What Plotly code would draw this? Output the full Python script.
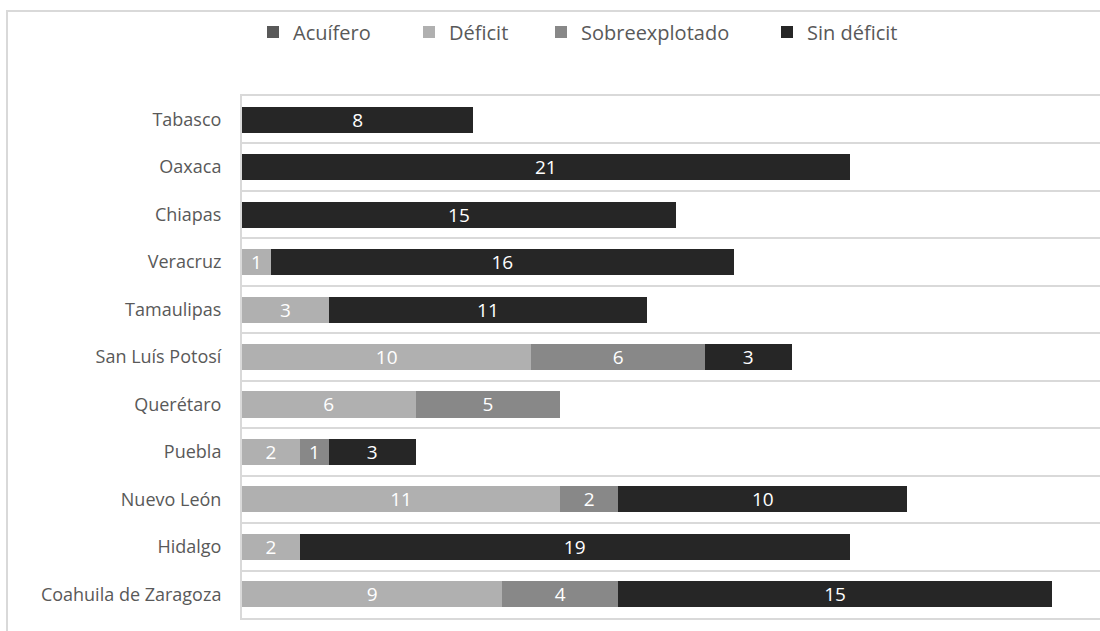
import plotly.graph_objects as go

# States, listed bottom to top on the category axis
estados = [
    "Coahuila de Zaragoza", "Hidalgo", "Nuevo León", "Puebla", "Querétaro",
    "San Luís Potosí", "Tamaulipas", "Veracruz", "Chiapas", "Oaxaca", "Tabasco",
]

# Number of aquifers per condition (None = no aquifers in that condition)
acuifero = [None] * len(estados)
deficit = [9, 2, 11, 2, 6, 10, 3, 1, None, None, None]
sobreexplotado = [4, None, 2, 1, 5, 6, None, None, None, None, None]
sin_deficit = [15, 19, 10, 3, None, 3, 11, 16, 15, 21, 8]

series = [
    ("Acuífero", acuifero, "#595959"),
    ("Déficit", deficit, "#b0b0b0"),
    ("Sobreexplotado", sobreexplotado, "#888888"),
    ("Sin déficit", sin_deficit, "#262626"),
]

FONT = "Open Sans"
W, H = 1100, 631
L, T, B = 242, 96, 12.5
plot_w = W - L
plot_h = H - T - B
UNIT_PX = 28.93  # pixels per aquifer along the value axis

# left edge (px) of each legend entry, one legend box per series
legend_left_px = [253, 409, 541, 767]

fig = go.Figure()
for i, (name, vals, color) in enumerate(series):
    fig.add_trace(go.Bar(
        name=name,
        y=estados,
        x=vals,
        orientation="h",
        marker=dict(color=color, line=dict(width=0)),
        text=[("" if v is None else str(v)) for v in vals],
        textposition="inside",
        insidetextanchor="middle",
        textangle=0,
        textfont=dict(family=FONT, size=19, color="white"),
        hoverinfo="skip",
        legend="legend" if i == 0 else f"legend{i + 1}",
    ))

# light frame around the whole chart area
fig.add_shape(
    type="rect", xref="paper", yref="paper",
    x0=(7 - L) / plot_w, x1=1.05,
    y0=-0.05, y1=(H - B - 11) / plot_h,
    line=dict(color="#d9d9d9", width=2), fillcolor="rgba(0,0,0,0)", layer="below",
)

legend_common = dict(
    orientation="h",
    xanchor="left",
    y=(H - B - 32) / plot_h, yanchor="middle",
    font=dict(family=FONT, size=20, color="#595959"),
    bgcolor="rgba(0,0,0,0)",
    itemwidth=30,
)
legends = {}
for i, px in enumerate(legend_left_px):
    key = "legend" if i == 0 else f"legend{i + 1}"
    legends[key] = dict(legend_common, x=(px - L) / plot_w)

fig.update_layout(
    width=W, height=H,
    margin=dict(l=L, r=0, t=T, b=B, pad=0),
    barmode="stack",
    bargap=0.45,
    paper_bgcolor="white",
    plot_bgcolor="white",
    font=dict(family=FONT, color="#595959"),
    uniformtext=dict(minsize=19, mode="show"),
    showlegend=True,
    xaxis=dict(
        range=[0, plot_w / UNIT_PX],
        showticklabels=False, showgrid=False, zeroline=False,
        showline=True, mirror=True, linecolor="#d9d9d9", linewidth=2,
        fixedrange=True,
    ),
    yaxis=dict(
        type="category",
        categoryorder="array", categoryarray=estados,
        tickson="boundaries",
        ticks="",
        showgrid=True, gridcolor="#d9d9d9", gridwidth=2,
        showline=True, linecolor="#d9d9d9", linewidth=2,
        tickfont=dict(family=FONT, size=18, color="#595959"),
        ticklabelstandoff=15,
        fixedrange=True,
    ),
    **legends,
)

fig.write_html("out.html")
